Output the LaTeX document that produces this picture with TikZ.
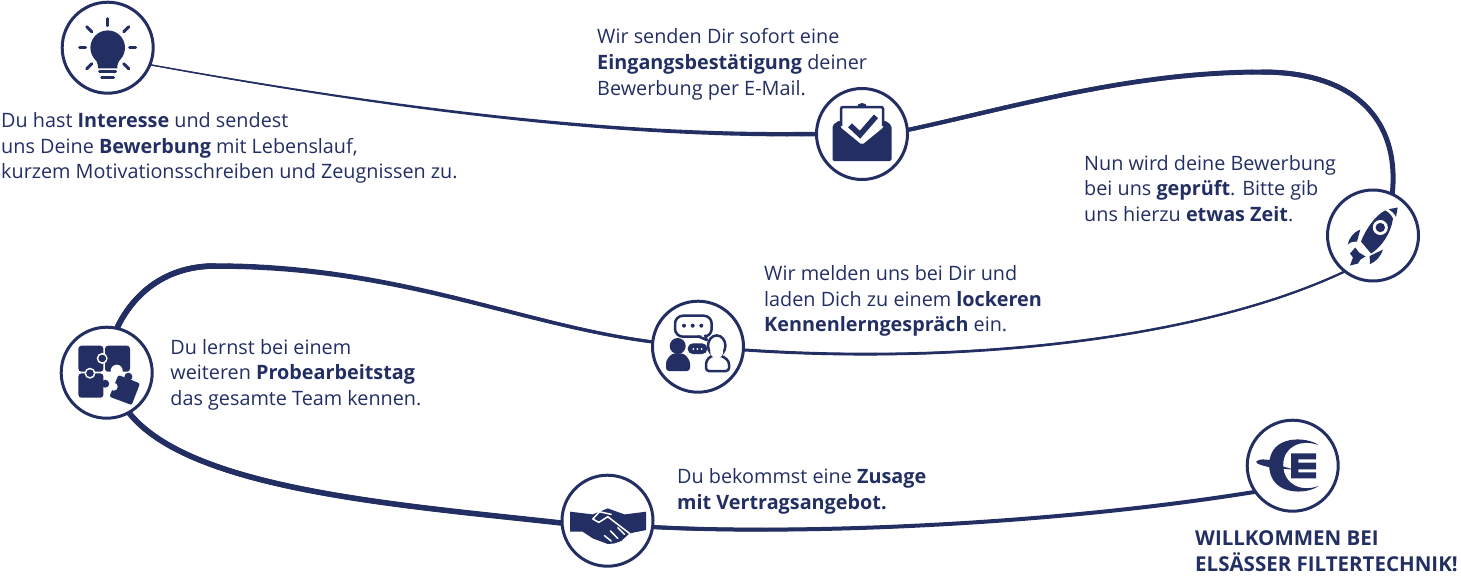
\documentclass[tikz,border=0pt]{standalone}
\usepackage{fontspec}
\setmainfont{Open Sans}
\usetikzlibrary{positioning,backgrounds}
\definecolor{navy}{RGB}{35,47,99}
\tikzset{
  station/.style={circle, draw=navy, fill=white, line width=3pt, minimum size=91pt, inner sep=0pt, outer sep=0pt},
  caption/.style={anchor=west, align=left, inner sep=0pt, text=navy, font=\fontsize{19.8}{25.8}\selectfont},
  icon/.style={fill=navy, draw=none},
  ray/.style={draw=navy, line width=3pt, line cap=round},
  gap/.style={draw=white, line width=1.5pt, line cap=round, line join=round}
}
% thin line from node to node, thickened piece by piece
\newcommand\linkcurve[6]{
  \draw[navy, line width=#5pt] (#1) .. controls #2 and #3 .. (#4)
    \foreach \i in {0,...,40}{coordinate[pos=\i/40] (q\i)};
  \foreach \i [remember=\i as \j (initially 0)] in {1,...,40}{
    \pgfmathsetmacro\w{#5+(#6-#5)*\i/40}
    \draw[navy, line width=\w pt, line cap=round] (q\j) -- (q\i);
  }
}

\begin{document}
\begin{tikzpicture}[x=1pt, y=-1pt]
  \useasboundingbox (0,0) rectangle (1461,582);

  \node [station] (bulb) at (107.7,47.7) {};
  \node [station] (mail) at (862,134) {};
  \node [station] (rocket) at (1373,235.5) {};
  \node [station] (people) at (698,346.7) {};
  \node [station] (puzzle) at (106.7,372.7) {};
  \node [station] (hands) at (607.5,520.7) {};
  \node [station] (logo) at (1292.7,465.7) {};
  \coordinate (crestmail) at (1262,72);
  \coordinate (crestpuzzle) at (215,266);

  \begin{pgfonlayer}{background}
    \linkcurve{bulb.-22}{(400,110)}{(620,137)}{mail.180}{1.2}{4.5}
    \linkcurve{mail.5}{(1010,108)}{(1130,72)}{crestmail}{4}{5}
    \linkcurve{crestmail}{(1355,72)}{(1400,120)}{rocket.65}{5}{3.5}
    \linkcurve{rocket.-128}{(1200,340)}{(960,365)}{people.-4}{2}{3}
    \linkcurve{people.174}{(520,325)}{(400,266)}{crestpuzzle}{3}{5.5}
    \linkcurve{crestpuzzle}{(160,266)}{(130,300)}{puzzle.77}{5.5}{5.5}
    \linkcurve{puzzle.-61}{(190,490)}{(400,505)}{hands.-177}{5.5}{4.5}
    \linkcurve{hands.-8}{(800,535)}{(1050,525)}{logo.-145}{4}{1}
  \end{pgfonlayer}

  \node [caption] (interest) at (1,148) {Du hast \textbf{Interesse} und sendest\\uns Deine \textbf{Bewerbung} mit Lebenslauf,\\kurzem Motivationsschreiben und Zeugnissen zu.};
  \node [caption] (receipt) at (597,64) {Wir senden Dir sofort eine\\\textbf{Eingangsbestätigung} deiner\\Bewerbung per E-Mail.};
  \node [caption] (review) at (1084,188.5) {Nun wird deine Bewerbung\\bei uns \textbf{geprüft}. Bitte gib\\uns hierzu \textbf{etwas Zeit}.};
  \node [caption] (talk) at (764,301) {Wir melden uns bei Dir und\\laden Dich zu einem \textbf{lockeren}\\\textbf{Kennenlerngespräch} ein.};
  \node [caption] (trial) [right = 18pt of puzzle, yshift=-2pt] {Du lernst bei einem\\weiteren \textbf{Probearbeitstag}\\das gesamte Team kennen.};
  \node [caption] (offer) at (677,491) {Du bekommst eine \textbf{Zusage}\\\textbf{mit Vertragsangebot.}};
  \node [caption, font=\fontsize{20.5}{25.8}\selectfont] (welcome) at (1195,551.5) {\textbf{WILLKOMMEN BEI}\\\textbf{ELSÄSSER FILTERTECHNIK!}};

  % lamp
  \begin{scope}[shift={(bulb.center)}]
    \fill[icon] (0,0) circle (17.3);
    \fill[icon] (-15,8) .. controls (-11,13) and (-9.5,16) .. (-9.5,20.7) -- (9.5,20.7) .. controls (9.5,16) and (11,13) .. (15,8) -- cycle;
    \draw[ray] (-8,23.7) -- (8,23.7);
    \draw[ray] (-6,29.7) -- (6,29.7);
    \draw[ray] (0,-29) -- (0,-22);
    \draw[ray] (-28,0) -- (-22,0);
    \draw[ray] (22,0) -- (28,0);
    \foreach \sx in {-1,1}
      \foreach \sy in {-1,1}
        \draw[ray] (\sx*21,\sy*21) -- (\sx*16,\sy*16);
  \end{scope}

  % envelope
  \begin{scope}[shift={(mail.center)}]
    \fill[icon] (-5,-27) arc (180:360:5 and 4) -- cycle;
    \fill[icon, rounded corners=2pt] (-22,-14) -- (-29.5,-9) -- (-29.5,27) -- (29.5,27) -- (29.5,-9) -- (22,-14) -- (22,-7) -- (0,11) -- (-22,-7) -- cycle;
    \draw[navy, line width=2.5pt, rounded corners=2pt] (-21,-8) -- (-21,-27) -- (21,-27) -- (21,-8);
    \draw[navy, line width=5.5pt] (-12,-8.7) -- (-2,0.7) -- (14,-17.7);
  \end{scope}

  % rocket
  \begin{scope}[shift={(rocket.center)}]
    \fill[icon] (15.7,-26.3) -- (24.7,-28) -- (23,-18.7) .. controls (21,-22) and (19,-24.5) .. cycle;
    \fill[icon] (12,-25) .. controls (2,-20) and (-8,-5) .. (-12,6) -- (-2,18) .. controls (8,12) and (18,-2) .. (20,-17) .. controls (18,-21) and (15,-24) .. cycle;
    \fill[white] (7.3,-8) circle (7.5);
    \fill[icon] (7.3,-8) circle (4.7);
    \fill[icon] (-12.7,-6) .. controls (-20,-3) and (-24,3) .. (-25.3,9) .. controls (-22,6) and (-19,6) .. (-16,6) -- cycle;
    \fill[icon] (10,14) .. controls (7,22) and (3,26) .. (-3.3,28.7) .. controls (-3,26) and (-3,24) .. (-3.5,20.7) -- cycle;
    \fill[icon] (-17.7,12) -- (-14,17) -- (-7.5,21) -- (-12.5,24) -- (-15,28) -- (-23,30) -- (-20,22) -- (-23,18) -- cycle;
  \end{scope}

  % talking people
  \begin{scope}[shift={(people.center)}]
    \draw[navy, line width=2.5pt, rounded corners=8pt] (-23,-31) rectangle (13.7,-10);
    \draw[navy, line width=2.5pt, fill=white, line join=round] (0,-10.5) -- (8.7,-6.7) -- (7,-12);
    \foreach \px in {-14,-5.3,3.3}
      \fill[icon] (\px,-21) circle (2);
    \fill[icon] (-20.3,-0.7) circle (8);
    \fill[icon, rounded corners=3pt] (-32,24.3) -- (-32,14) -- (-26,6.7) -- (-14,6.7) -- (-8,14) -- (-8,24.3) -- cycle;
    \fill[icon, rounded corners=5pt] (-10.3,-3.3) rectangle (9.3,7.3);
    \foreach \px in {-4.7,-0.7,3.7}
      \fill[white] (\px,2.3) circle (1);
    \draw[navy, line width=2.5pt, rounded corners=3pt] (8,24.3) -- (8,14.5) -- (13,9) -- (24,9) -- (31,14.5) -- (31,24.3) -- cycle;
    \draw[navy, line width=2.5pt] (18.7,-1) ellipse (8.7 and 10.3);
    \fill[white] (18.7,5) ellipse (6.5 and 6.5);
  \end{scope}

  % puzzle pieces
  \begin{scope}[shift={(puzzle.center)}]
    \fill[icon, rounded corners=3pt] (-28.3,-27) rectangle (-3.3,-1);
    \fill[icon, rounded corners=3pt] (-1.7,-27) rectangle (23.3,-1);
    \fill[icon, rounded corners=3pt] (-28.3,0.7) rectangle (-3.3,25);
    \fill[white] (-4.5,-14.3) circle (5.5);
    \fill[icon] (-4.5,-14.3) circle (3.8);
    \fill[icon] (-4.5,-16) rectangle (-1,-12.6);
    \fill[white] (-16.7,0.5) circle (5.5);
    \fill[icon] (-16.7,0.5) circle (3.8);
    \fill[icon] (-18.4,-3) rectangle (-15,0.5);
    \fill[icon] (-1.5,11) circle (4);
    \fill[white] (10,-2) circle (6);
    \fill[white] (8,-1) -- (25,-1) -- (25,3) -- (8,3) -- cycle;
    \fill[icon, rounded corners=2pt] (11.7,2.3) -- (33.3,10.7) -- (25,32.3) -- (2.7,24) -- cycle;
    \fill[icon] (21.7,4) circle (4);
    \fill[white] (7,14) circle (4);
  \end{scope}

  % handshake
  \begin{scope}[shift={(hands.center)}]
    \fill[icon] (-37.3,-9) -- (-14.7,-6.3) -- (0.3,-12.3) -- (17,-6.3) -- (38.7,-9) -- (38.7,9.3) -- (22,12.7) -- (13.7,20.3) -- (7,22.7) -- (0.3,23.3) -- (-14.7,17.7) -- (-24.7,11) -- (-37.3,11) -- cycle;
    \draw[gap] (3.7,-6.3) -- (-8,-9) -- (-14.7,-1.7) -- (-8.7,1.7) -- (0.3,-4) -- (22,12.7);
    \draw[gap] (-3,15) -- (3.7,20.3);
    \draw[gap] (3,10.3) -- (10.3,17.7);
    \draw[gap] (10.3,7) -- (17,13.7);
  \end{scope}

  % company mark
  \begin{scope}[shift={(logo.center)}]
    \fill[icon] (25.7,-20.7) .. controls (15,-29) and (-23.5,-32) .. (-23.5,-0.7) .. controls (-23.5,31) and (15,29) .. (25.7,20.3) .. controls (8,27) and (-9.5,18) .. (-9.5,-0.7) .. controls (-9.5,-19) and (8,-27) .. cycle;
    \fill[icon] (-36.7,-4) .. controls (-34,-6) and (-31,-6.5) .. (-30,-6.3) -- (-22.7,-5.7) -- (-9,1) -- (-1.7,3) -- (-1.7,3.7) -- (-22,2) -- (-31,-0.5) .. controls (-34,-1) and (-36,-2.5) .. cycle;
    \fill[icon] (-1.7,-12.3) -- (23.3,-12.3) -- (23.3,-6.3) -- (5.7,-6.3) -- (5.7,-3) -- (23.3,-3) -- (23.3,3.7) -- (5.7,3.7) -- (5.7,6.7) -- (23.3,6.7) -- (23.3,12.7) -- (-1.7,12.7) -- cycle;
  \end{scope}
\end{tikzpicture}
\end{document}
